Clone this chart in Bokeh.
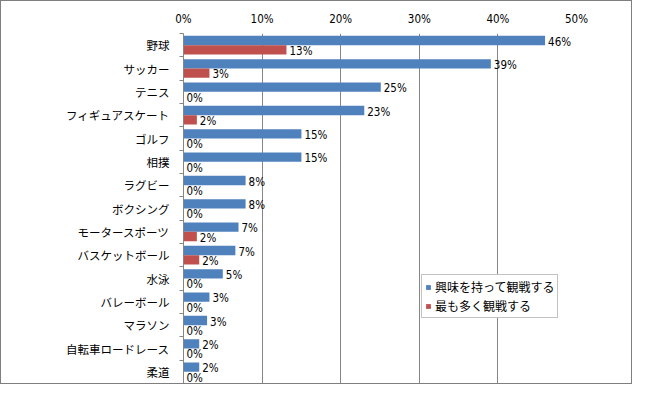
from bokeh.plotting import figure
from bokeh.models import (ColumnDataSource, FixedTicker, LinearAxis, PrintfTickFormatter,
                          Range1d, Legend, LegendItem)
from bokeh.core.properties import value
from bokeh.embed import file_html
from bokeh.resources import INLINE

sports = ["野球", "サッカー", "テニス", "フィギュアスケート", "ゴルフ", "相撲", "ラグビー",
          "ボクシング", "モータースポーツ", "バスケットボール", "水泳", "バレーボール",
          "マラソン", "自転車ロードレース", "柔道"]
interested = [46.0, 39.1, 25.1, 23.0, 15.0, 15.0, 7.9, 7.9, 7.0, 6.6, 5.0, 3.3, 3.0, 2.0, 2.0]
most = [13.1, 3.3, 0.0, 1.7, 0.0, 0.0, 0.0, 0.0, 1.7, 2.0, 0.0, 0.0, 0.0, 0.0, 0.0]
x_ticks = [0, 10, 20, 30, 40, 50]
series_names = ["興味を持って観戦する", "最も多く観戦する"]

BLUE = "#4F81BD"
RED = "#C0504D"
GRID = "#868686"
NUM_FONT = "'Liberation Sans Narrow', 'DejaVu Sans Condensed', sans-serif"
JP_FONT = "Noto Sans CJK JP"

n = len(sports)
centers = [n - i - 0.5 for i in range(n)]

src = ColumnDataSource(dict(
    sport=sports,
    c=centers,
    yb=[c + 0.2 for c in centers],
    yr=[c - 0.2 for c in centers],
    blue=interested,
    red=most,
    lb=[f"{round(v)}%" for v in interested],
    lr=[f"{round(v)}%" for v in most],
))

p = figure(width=632, height=384, output_backend="svg", toolbar_location=None,
           x_range=Range1d(0, 50), y_range=Range1d(0, n),
           x_axis_location="above", y_axis_location=None,
           min_border_left=182, min_border_right=57, min_border_top=32, min_border_bottom=2)
p.styles = {"border": "1px solid #7f7f7f"}
p.outline_line_color = None
p.background_fill_color = "white"
p.border_fill_color = "white"

rb = p.hbar(y="yb", right="blue", left=0, height=0.4, source=src,
            fill_color=BLUE, line_color=None)
rr = p.hbar(y="yr", right="red", left=0, height=0.4, source=src,
            fill_color=RED, line_color=None)

p.text(x="blue", y="yb", text="lb", source=src, x_offset=3, y_offset=1,
       text_font=value(NUM_FONT), text_font_size="11.5px", text_color="black",
       text_baseline="middle", text_align="left")
p.text(x="red", y="yr", text="lr", source=src, x_offset=3, y_offset=1,
       text_font=value(NUM_FONT), text_font_size="11.5px", text_color="black",
       text_baseline="middle", text_align="left")

# top axis
xa = p.xaxis[0]
xa.ticker = FixedTicker(ticks=x_ticks)
xa.formatter = PrintfTickFormatter(format="%d%%")
xa.axis_line_color = None
xa.major_tick_line_color = None
xa.minor_tick_line_color = None
xa.major_tick_out = 0
xa.major_label_standoff = 8
xa.major_label_text_font = NUM_FONT
xa.major_label_text_font_size = "11.5px"
xa.major_label_text_color = "black"

p.xgrid.ticker = FixedTicker(ticks=x_ticks)
p.xgrid.grid_line_color = GRID
p.ygrid.grid_line_color = None

# left category axis
ya = LinearAxis(ticker=FixedTicker(ticks=centers, minor_ticks=list(range(n + 1))),
                major_label_overrides={c: s for c, s in zip(centers, sports)})
ya.axis_line_color = GRID
ya.major_tick_line_color = None
ya.major_tick_out = 0
ya.major_tick_in = 0
ya.minor_tick_line_color = GRID
ya.minor_tick_out = 4
ya.minor_tick_in = 0
ya.major_label_standoff = 10
ya.major_label_text_font = JP_FONT
ya.major_label_text_font_size = "11.5px"
ya.major_label_text_color = "black"
p.add_layout(ya, "left")

legend = Legend(items=[LegendItem(label=series_names[0], renderers=[rb]),
                       LegendItem(label=series_names[1], renderers=[rr])],
                location=(238, 65))
legend.glyph_width = 6
legend.glyph_height = 6
legend.label_standoff = 4
legend.label_height = 14
legend.spacing = 2
legend.padding = 3
legend.margin = 0
legend.label_text_font = JP_FONT
legend.label_text_font_size = "12px"
legend.label_text_color = "black"
legend.border_line_color = GRID
legend.background_fill_alpha = 1
p.add_layout(legend, "center")

open("out.html", "w").write(file_html(p, INLINE))
